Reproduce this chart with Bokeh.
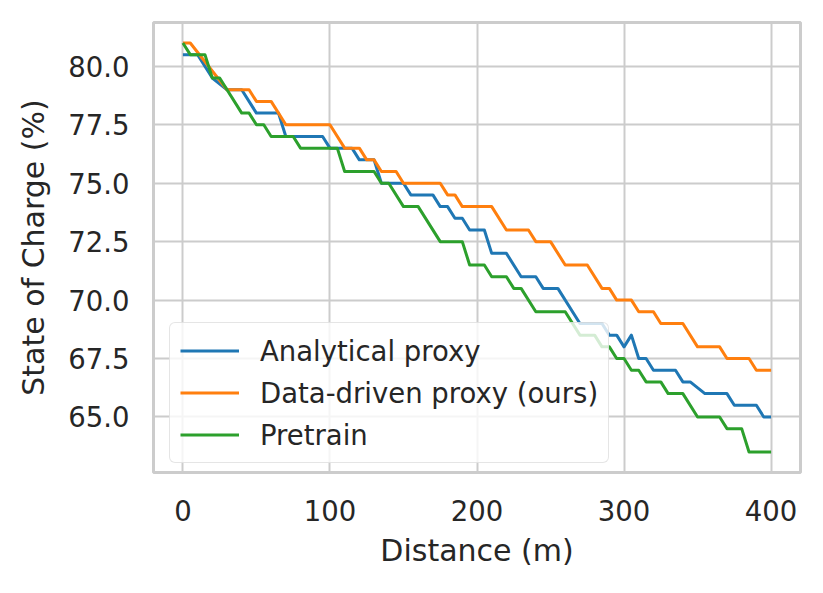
from bokeh.plotting import figure
from bokeh.models import FixedTicker, Range1d, Legend, LegendItem, NumeralTickFormatter
from bokeh.embed import file_html
from bokeh.resources import INLINE

# ---- data (vertices) ----
analytical_x = [0, 10, 20, 30, 40, 50, 65, 70, 95, 100, 115, 120, 130, 135, 150, 155, 170, 175,
                180, 185, 190, 195, 205, 210, 220, 230, 240, 245, 255, 270, 285, 290, 295, 300,
                305, 310, 315, 320, 335, 340, 345, 355, 370, 375, 390, 395, 400]
analytical_y = [80.5, 80.5, 79.5, 79.0, 79.0, 78.0, 78.0, 77.0, 77.0, 76.5, 76.5, 76.0, 76.0, 75.0,
                75.0, 74.5, 74.5, 74.0, 74.0, 73.5, 73.5, 73.0, 73.0, 72.0, 72.0, 71.0, 71.0, 70.5,
                70.5, 69.0, 69.0, 68.5, 68.5, 68.0, 68.5, 67.5, 67.5, 67.0, 67.0, 66.5, 66.5, 66.0,
                66.0, 65.5, 65.5, 65.0, 65.0]

datadriven_x = [0, 5, 30, 45, 50, 60, 70, 100, 110, 120, 125, 130, 135, 145, 150, 175, 180, 185,
                190, 210, 220, 235, 240, 250, 260, 275, 285, 290, 295, 305, 310, 320, 325, 340,
                350, 365, 370, 385, 390, 400]
datadriven_y = [81.0, 81.0, 79.0, 79.0, 78.5, 78.5, 77.5, 77.5, 76.5, 76.5, 76.0, 76.0, 75.5, 75.5,
                75.0, 75.0, 74.5, 74.5, 74.0, 74.0, 73.0, 73.0, 72.5, 72.5, 71.5, 71.5, 70.5, 70.5,
                70.0, 70.0, 69.5, 69.5, 69.0, 69.0, 68.0, 68.0, 67.5, 67.5, 67.0, 67.0]

pretrain_x = [0, 5, 15, 20, 25, 40, 45, 50, 55, 60, 75, 80, 105, 110, 130, 135, 140, 150, 160,
              175, 190, 195, 205, 210, 220, 225, 230, 240, 260, 270, 280, 285, 290, 295, 300,
              305, 310, 315, 325, 330, 340, 350, 365, 370, 380, 385, 400]
pretrain_y = [81.0, 80.5, 80.5, 79.5, 79.5, 78.0, 78.0, 77.5, 77.5, 77.0, 77.0, 76.5, 76.5, 75.5,
              75.5, 75.0, 75.0, 74.0, 74.0, 72.5, 72.5, 71.5, 71.5, 71.0, 71.0, 70.5, 70.5, 69.5,
              69.5, 68.5, 68.5, 68.0, 68.0, 67.5, 67.5, 67.0, 67.0, 66.5, 66.5, 66.0, 66.0, 65.0,
              65.0, 64.5, 64.5, 63.5, 63.5]

series_names = ["Analytical proxy", "Data-driven proxy (ours)", "Pretrain"]
series_colors = ["#1f77b4", "#ff7f0e", "#2ca02c"]

x_ticks = [0, 100, 200, 300, 400]
y_ticks = [65.0, 67.5, 70.0, 72.5, 75.0, 77.5, 80.0]

FONT = "DejaVu Sans"
TXT = "#262626"
GRID = "#cccccc"

p = figure(width=807, height=577, output_backend="svg", toolbar_location=None,
           x_range=Range1d(-20, 420), y_range=Range1d(62.625, 81.875),
           min_border_left=153, min_border_right=7, min_border_top=22, min_border_bottom=105)

p.background_fill_color = "white"
p.border_fill_color = "white"
p.outline_line_color = GRID
p.outline_line_width = 3

p.xgrid.grid_line_color = GRID
p.ygrid.grid_line_color = GRID
p.xgrid.grid_line_width = 2
p.ygrid.grid_line_width = 2

p.xaxis.ticker = FixedTicker(ticks=x_ticks)
p.yaxis.ticker = FixedTicker(ticks=y_ticks)
p.yaxis.formatter = NumeralTickFormatter(format="0.0")

for ax in (p.xaxis[0], p.yaxis[0]):
    ax.axis_line_color = None
    ax.major_tick_line_color = None
    ax.minor_tick_line_color = None
    ax.major_tick_out = 0
    ax.major_tick_in = 0
    ax.minor_tick_out = 0
    ax.minor_tick_in = 0
    ax.major_label_text_font = FONT
    ax.major_label_text_font_size = "27.5px"
    ax.major_label_text_color = TXT
    ax.axis_label_text_font = FONT
    ax.axis_label_text_font_size = "30px"
    ax.axis_label_text_font_style = "normal"
    ax.axis_label_text_color = TXT

p.xaxis.axis_label = "Distance (m)"
p.yaxis.axis_label = "State of Charge (%)"
p.xaxis.major_label_standoff = 27
p.yaxis.major_label_standoff = 24
p.xaxis.axis_label_standoff = 9
p.yaxis.axis_label_standoff = 14

xs = [analytical_x, datadriven_x, pretrain_x]
ys = [analytical_y, datadriven_y, pretrain_y]
renderers = []
for x, y, c in zip(xs, ys, series_colors):
    r = p.line(x, y, line_color=c, line_width=3, line_join="round")
    renderers.append(r)

legend = Legend(items=[LegendItem(label=n, renderers=[r]) for n, r in zip(series_names, renderers)],
                location=(16, 9))
legend.label_text_font = FONT
legend.label_text_font_size = "27.5px"
legend.label_text_color = TXT
legend.glyph_width = 59
legend.glyph_height = 35
legend.label_height = 28
legend.label_standoff = 21
legend.spacing = 7
legend.padding = 10
legend.margin = 0
legend.border_line_color = GRID
legend.border_line_width = 1.5
legend.border_radius = 6
legend.background_fill_color = "white"
legend.background_fill_alpha = 0.8
p.add_layout(legend, "center")

open("out.html", "w").write(file_html(p, INLINE))
